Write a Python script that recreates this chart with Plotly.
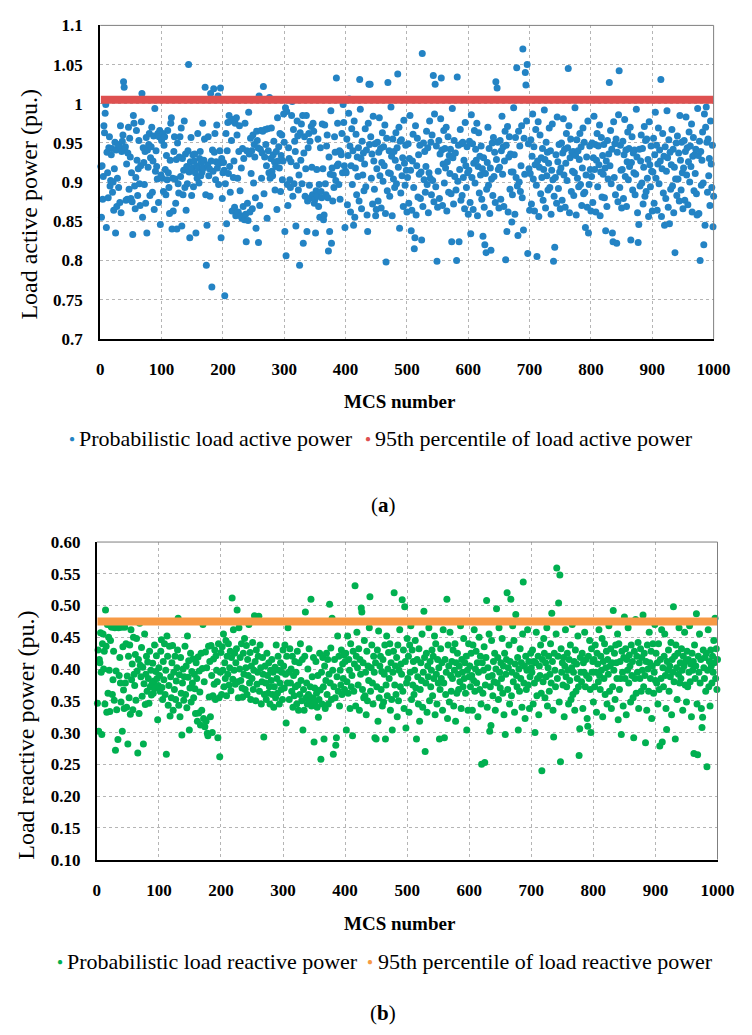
import plotly.graph_objects as go

# MCS sample numbers 1..1000
mcs_number = list(range(1, 1001))

# Probabilistic load active power, in milli-pu
active_power_mpu = [
    920, 855, 921, 878, 907, 972, 963, 988, 999, 842, 938, 912, 880, 944, 958, 895, 902, 935, 943, 887,
    900, 864, 917, 951, 835, 941, 869, 905, 948, 893, 946, 874, 972, 861, 939, 952, 960, 1028, 1021, 941,
    945, 877, 923, 878, 937, 970, 891, 956, 932, 879, 912, 875, 833, 985, 975, 895, 866, 906, 966, 928,
    883, 917, 953, 898, 870, 921, 977, 1013, 855, 944, 925, 897, 939, 873, 957, 835, 941, 919, 948, 962,
    883, 931, 945, 970, 887, 927, 959, 865, 994, 914, 940, 920, 904, 962, 874, 958, 966, 846, 909, 953,
    905, 962, 888, 947, 958, 916, 884, 934, 903, 966, 912, 893, 860, 928, 975, 982, 840, 905, 863, 939,
    958, 904, 873, 929, 840, 950, 898, 886, 932, 958, 907, 969, 844, 930, 884, 915, 978, 893, 936, 864,
    920, 898, 940, 1050, 913, 829, 926, 957, 883, 918, 935, 894, 927, 936, 912, 835, 921, 905, 962, 918,
    899, 930, 939, 908, 925, 913, 975, 918, 928, 955, 1021, 884, 794, 845, 922, 958, 908, 917, 882, 1013,
    927, 766, 941, 914, 1019, 938, 962, 903, 926, 973, 918, 1010, 897, 924, 940, 1020, 829, 930, 879, 912,
    925, 915, 755, 898, 962, 847, 940, 976, 911, 985, 920, 887, 978, 953, 863, 980, 906, 927, 868, 975,
    857, 982, 960, 905, 862, 939, 972, 889, 857, 918, 854, 943, 869, 930, 852, 975, 859, 824, 940, 873,
    851, 989, 936, 862, 956, 911, 940, 866, 960, 899, 948, 932, 880, 841, 965, 953, 944, 823, 1010, 870,
    942, 966, 905, 937, 965, 1022, 885, 932, 967, 948, 921, 854, 968, 940, 912, 1008, 905, 930, 969, 914,
    908, 935, 952, 926, 890, 920, 939, 865, 982, 927, 945, 918, 962, 888, 934, 960, 903, 927, 987, 951,
    837, 995, 806, 990, 897, 870, 944, 930, 903, 893, 926, 985, 1003, 882, 967, 898, 952, 939, 844, 921,
    978, 959, 890, 909, 794, 963, 928, 974, 898, 985, 822, 937, 958, 882, 917, 985, 837, 876, 944, 962,
    896, 952, 880, 971, 919, 884, 975, 965, 873, 878, 835, 889, 916, 882, 955, 869, 897, 855, 944, 888,
    880, 974, 917, 852, 858, 973, 898, 884, 946, 960, 880, 812, 932, 837, 910, 991, 822, 918, 876, 909,
    893, 958, 938, 902, 1033, 921, 975, 923, 897, 940, 878, 938, 935, 962, 912, 999, 976, 921, 842, 914,
    912, 955, 871, 934, 988, 1006, 946, 862, 921, 968, 897, 940, 845, 978, 855, 918, 961, 884, 932, 907,
    944, 876, 1031, 993, 930, 866, 952, 909, 937, 889, 923, 968, 894, 941, 858, 837, 975, 1025, 948, 1025,
    958, 905, 936, 872, 984, 927, 891, 949, 857, 865, 917, 951, 876, 938, 982, 908, 943, 867, 925, 963,
    901, 945, 921, 973, 860, 798, 956, 889, 1027, 912, 940, 882, 911, 996, 933, 857, 955, 904, 939, 893,
    928, 963, 898, 944, 1038, 919, 970, 841, 952, 886, 954, 908, 931, 869, 979, 924, 896, 947, 915, 862,
    906, 949, 873, 930, 985, 915, 838, 864, 927, 961, 893, 815, 829, 972, 858, 921, 956, 881, 935, 910,
    947, 879, 913, 826, 1064, 869, 950, 903, 939, 887, 920, 965, 897, 944, 861, 912, 978, 905, 951, 884,
    960, 902, 1036, 875, 987, 1025, 894, 946, 799, 868, 914, 953, 879, 936, 981, 1033, 941, 870, 923, 966,
    899, 943, 918, 970, 863, 926, 958, 887, 934, 911, 942, 885, 824, 994, 931, 872, 953, 907, 937, 890,
    800, 1034, 901, 947, 824, 916, 967, 877, 949, 883, 951, 906, 928, 866, 976, 921, 893, 945, 912, 859,
    915, 952, 874, 834, 986, 906, 949, 865, 924, 966, 899, 942, 928, 975, 857, 920, 963, 886, 933, 909,
    946, 878, 917, 831, 931, 868, 820, 911, 810, 891, 925, 970, 896, 943, 860, 918, 813, 904, 950, 883,
    957, 907, 938, 874, 1028, 929, 1020, 951, 916, 867, 919, 953, 878, 940, 984, 910, 945, 869, 927, 965,
    801, 947, 837, 971, 862, 932, 958, 891, 936, 913, 849, 884, 913, 995, 935, 859, 957, 906, 1046, 895,
    832, 965, 900, 946, 888, 921, 972, 880, 1070, 839, 956, 910, 1040, 1024, 978, 1050, 809, 949, 917, 864,
    911, 954, 872, 933, 987, 904, 945, 863, 922, 967, 896, 805, 927, 977, 856, 919, 960, 885, 931, 906,
    943, 877, 916, 992, 929, 867, 951, 908, 938, 890, 924, 969, 893, 940, 859, 915, 974, 903, 799, 882,
    817, 906, 935, 873, 983, 926, 892, 948, 913, 866, 918, 950, 877, 937, 981, 909, 942, 868, 924, 962,
    902, 944, 1045, 972, 861, 931, 955, 888, 938, 914, 939, 883, 912, 995, 934, 858, 954, 905, 940, 894,
    929, 962, 897, 945, 870, 918, 969, 885, 951, 887, 842, 909, 932, 868, 978, 835, 897, 946, 916, 863,
    907, 950, 874, 931, 984, 916, 948, 862, 928, 962, 894, 946, 922, 973, 857, 913, 957, 881, 934, 910,
    948, 880, 918, 838, 927, 869, 953, 904, 936, 1027, 921, 966, 898, 942, 835, 824, 977, 906, 949, 884,
    955, 822, 938, 875, 986, 1042, 893, 947, 915, 867, 916, 952, 879, 935, 980, 907, 941, 869, 926, 964,
    903, 943, 920, 970, 826, 925, 958, 890, 937, 912, 941, 884, 910, 993, 932, 861, 823, 846, 942, 895,
    927, 960, 899, 943, 872, 919, 971, 882, 953, 888, 955, 905, 929, 856, 977, 922, 894, 946, 914, 863,
    913, 956, 873, 935, 989, 905, 947, 864, 923, 969, 898, 941, 927, 1031, 856, 917, 962, 886, 933, 845,
    945, 879, 914, 991, 931, 868, 954, 847, 938, 891, 922, 967, 895, 942, 861, 919, 810, 904, 950, 883,
    959, 904, 937, 876, 985, 928, 890, 951, 912, 866, 918, 953, 877, 939, 983, 909, 944, 871, 926, 964,
    900, 946, 920, 974, 862, 933, 957, 889, 935, 911, 942, 885, 858, 994, 934, 860, 952, 800, 939, 896,
    928, 964, 899, 820, 987, 845, 970, 996, 951, 887, 955, 908, 930, 870, 978, 923, 893, 947, 843, 882,
]

# Probabilistic load reactive power, in milli-pu
reactive_power_mpu = [
    346, 430, 302, 415, 410, 457, 395, 297, 440, 455, 400, 428, 345, 493, 436, 332, 470, 362, 450, 398,
    333, 445, 467, 466, 360, 383, 428, 351, 465, 272, 397, 336, 467, 289, 465, 390, 418, 378, 348, 466,
    302, 435, 367, 338, 466, 378, 440, 340, 389, 282, 420, 355, 438, 329, 462, 383, 408, 336, 450, 392,
    374, 423, 351, 448, 397, 268, 415, 330, 472, 406, 388, 434, 357, 403, 282, 377, 455, 344, 392, 420,
    365, 411, 385, 346, 428, 372, 398, 359, 377, 409, 362, 381, 438, 370, 396, 421, 385, 320, 374, 402,
    390, 365, 428, 446, 371, 352, 412, 383, 440, 360, 398, 266, 452, 420, 343, 374, 436, 326, 388, 355,
    410, 437, 335, 395, 368, 420, 352, 381, 402, 430, 480, 343, 391, 325, 418, 362, 296, 378, 400, 351,
    388, 436, 360, 405, 339, 452, 387, 413, 304, 370, 425, 348, 396, 378, 416, 355, 392, 369, 330, 410,
    385, 318, 419, 331, 397, 364, 312, 425, 335, 401, 470, 322, 380, 309, 427, 318, 402, 299, 295, 436,
    356, 412, 325, 437, 390, 300, 358, 416, 376, 430, 352, 421, 398, 380, 292, 440, 355, 262, 395, 426,
    360, 435, 398, 455, 372, 410, 385, 445, 358, 420, 392, 440, 375, 402, 428, 366, 418, 512, 384, 462,
    398, 425, 376, 410, 432, 493, 380, 355, 465, 400, 418, 382, 440, 370, 356, 425, 392, 448, 368, 402,
    437, 360, 415, 390, 470, 378, 426, 352, 405, 385, 442, 368, 398, 484, 412, 350, 430, 376, 395, 420,
    483, 365, 438, 402, 345, 380, 418, 392, 293, 360, 405, 378, 352, 425, 390, 362, 410, 372, 345, 398,
    382, 415, 360, 395, 340, 372, 403, 355, 438, 385, 362, 420, 398, 345, 378, 410, 368, 395, 352, 430,
    405, 370, 438, 392, 315, 420, 378, 465, 395, 352, 432, 378, 400, 365, 420, 340, 390, 358, 412, 372,
    395, 345, 428, 375, 335, 410, 360, 440, 382, 350, 415, 304, 368, 335, 420, 490, 355, 378, 345, 400,
    360, 432, 350, 372, 510, 342, 388, 355, 418, 285, 370, 348, 412, 362, 340, 390, 324, 352, 425, 367,
    258, 395, 345, 418, 372, 290, 405, 338, 382, 425, 360, 415, 345, 392, 502, 378, 433, 352, 480, 398,
    266, 372, 415, 355, 280, 292, 388, 452, 365, 420, 342, 398, 375, 430, 360, 408, 385, 422, 368, 412,
    425, 304, 380, 452, 362, 415, 398, 338, 440, 372, 390, 295, 428, 365, 408, 531, 342, 420, 458, 402,
    375, 432, 335, 415, 392, 496, 490, 368, 410, 355, 445, 358, 395, 328, 428, 350, 405, 382, 465, 514,
    365, 402, 438, 378, 345, 420, 395, 292, 410, 290, 372, 430, 318, 460, 355, 405, 420, 368, 396, 342,
    415, 348, 392, 438, 290, 375, 452, 358, 400, 426, 385, 440, 335, 410, 352, 304, 395, 428, 520, 375,
    405, 360, 418, 325, 438, 350, 398, 462, 372, 408, 392, 509, 365, 430, 338, 498, 412, 307, 378, 448,
    385, 420, 332, 438, 395, 468, 352, 430, 375, 412, 360, 398, 445, 370, 290, 415, 388, 345, 432, 318,
    368, 410, 382, 455, 340, 395, 491, 418, 270, 378, 425, 332, 405, 388, 465, 350, 412, 372, 398, 430,
    358, 420, 385, 452, 328, 440, 392, 345, 415, 378, 402, 290, 368, 432, 385, 410, 335, 462, 378, 292,
    415, 360, 395, 510, 322, 438, 405, 348, 458, 390, 365, 412, 385, 430, 342, 398, 440, 318, 410, 362,
    425, 392, 368, 405, 380, 468, 338, 415, 395, 372, 448, 385, 410, 362, 420, 304, 398, 335, 440, 388,
    405, 372, 425, 390, 335, 438, 382, 462, 365, 400, 428, 378, 410, 325, 395, 450, 368, 420, 345, 250,
    410, 362, 398, 435, 253, 375, 418, 508, 340, 402, 388, 455, 302, 372, 311, 445, 390, 358, 412, 380,
    425, 335, 400, 495, 378, 418, 352, 465, 395, 370, 410, 385, 448, 362, 405, 328, 425, 297, 392, 415,
    520, 368, 402, 438, 345, 412, 510, 358, 395, 468, 380, 445, 332, 408, 486, 390, 372, 418, 304, 400,
    365, 432, 385, 410, 340, 455, 537, 378, 405, 322, 420, 368, 398, 462, 375, 412, 338, 388, 425, 402,
    395, 430, 345, 412, 378, 300, 410, 458, 358, 385, 420, 328, 405, 390, 438, 362, 240, 415, 380, 448,
    425, 355, 410, 388, 465, 342, 402, 420, 365, 392, 440, 378, 488, 412, 335, 293, 425, 398, 372, 455,
    559, 385, 420, 504, 348, 548, 254, 432, 395, 410, 375, 418, 325, 405, 462, 388, 372, 425, 398, 345,
    415, 382, 438, 352, 402, 470, 360, 395, 412, 335, 430, 365, 408, 385, 452, 372, 264, 306, 418, 395,
    380, 425, 338, 410, 395, 458, 372, 415, 390, 322, 310, 420, 385, 445, 368, 300, 432, 395, 412, 348,
    415, 372, 438, 395, 332, 425, 408, 380, 462, 390, 368, 420, 398, 448, 325, 412, 385, 440, 360, 402,
    428, 345, 415, 392, 468, 365, 405, 432, 338, 410, 372, 492, 398, 425, 352, 438, 410, 385, 455, 320,
    440, 368, 412, 385, 297, 428, 395, 342, 418, 482, 385, 432, 328, 415, 398, 465, 378, 422, 405, 348,
    438, 390, 412, 355, 292, 428, 385, 478, 362, 420, 395, 442, 338, 410, 385, 432, 365, 418, 398, 485,
    372, 425, 390, 284, 412, 335, 438, 400, 365, 458, 410, 385, 428, 322, 405, 440, 362, 395, 470, 382,
    425, 378, 410, 345, 440, 368, 279, 415, 385, 462, 285, 402, 372, 420, 455, 390, 338, 305, 412, 398,
    430, 365, 405, 388, 442, 328, 415, 395, 498, 380, 420, 290, 438, 402, 352, 425, 392, 465, 378, 410,
    385, 432, 398, 335, 420, 405, 458, 375, 412, 348, 428, 372, 415, 395, 468, 380, 408, 325, 425, 398,
    412, 267, 438, 385, 405, 487, 345, 265, 420, 395, 455, 378, 415, 338, 308, 324, 430, 402, 385, 418,
    365, 425, 246, 398, 462, 372, 412, 342, 430, 405, 378, 420, 395, 445, 410, 480, 385, 432, 368, 415,
]

# 95th percentile values (pu.)
p95_active = 1.005
p95_reactive = 0.475

# Axis ticks
x_ticks = list(range(0, 1001, 100))
y_ticks_a = [0.7, 0.75, 0.8, 0.85, 0.9, 0.95, 1.0, 1.05, 1.1]
y_ticktext_a = ["0.7", "0.75", "0.8", "0.85", "0.9", "0.95", "1", "1.05", "1.1"]
y_ticks_b = [0.10, 0.15, 0.20, 0.25, 0.30, 0.35, 0.40, 0.45, 0.50, 0.55, 0.60]

active_power = [v / 1000 for v in active_power_mpu]
reactive_power = [v / 1000 for v in reactive_power_mpu]

BLUE = "#2383C4"
RED = "#DE5050"
GREEN = "#00B050"
ORANGE = "#F79A45"
SERIF = "'Liberation Serif', 'Times New Roman', 'DejaVu Serif', serif"

W, H = 752, 1035

fig = go.Figure()
fig.add_trace(go.Scatter(x=mcs_number, y=active_power, mode="markers",
                         marker=dict(color=BLUE, size=7), cliponaxis=False,
                         name="Probabilistic load active power", showlegend=False,
                         xaxis="x", yaxis="y"))
fig.add_trace(go.Scatter(x=mcs_number, y=[p95_active] * len(mcs_number), mode="lines",
                         line=dict(color=RED, width=8), cliponaxis=False,
                         name="95th percentile of load active power", showlegend=False,
                         xaxis="x", yaxis="y"))
fig.add_trace(go.Scatter(x=mcs_number, y=reactive_power, mode="markers",
                         marker=dict(color=GREEN, size=7), cliponaxis=False,
                         name="Probabilistic load reactive power", showlegend=False,
                         xaxis="x2", yaxis="y2"))
fig.add_trace(go.Scatter(x=mcs_number, y=[p95_reactive] * len(mcs_number), mode="lines",
                         line=dict(color=ORANGE, width=8), cliponaxis=False,
                         name="95th percentile of load reactive power", showlegend=False,
                         xaxis="x2", yaxis="y2"))

tickfont = dict(family=SERIF, size=17, color="black", weight="bold")
grid = dict(showgrid=True, gridcolor="#B5B5B5", griddash="dot", gridwidth=1, zeroline=False,
            showline=True, linecolor="black", linewidth=2,
            ticks="outside", tickcolor="rgba(0,0,0,0)", tickfont=tickfont)

fig.update_layout(
    width=W, height=H,
    margin=dict(l=0, r=0, t=0, b=0),
    paper_bgcolor="white", plot_bgcolor="white",
    showlegend=False,
    xaxis=dict(domain=[99 / W, 730 / W], anchor="y", range=[0, 1000], tickvals=x_ticks,
               ticklen=14, **grid),
    yaxis=dict(domain=[1 - 336 / H, 1 - 16.7 / H], anchor="x", range=[0.7, 1.1],
               tickvals=y_ticks_a, ticktext=y_ticktext_a, ticklen=12, **grid),
    xaxis2=dict(domain=[95.5 / W, 734 / W], anchor="y2", range=[0, 1000], tickvals=x_ticks,
                ticklen=14, **grid),
    yaxis2=dict(domain=[1 - 866.5 / H, 1 - 543 / H], anchor="x2", range=[0.1, 0.6],
                tickvals=y_ticks_b, tickformat=".2f", ticklen=11, **grid),
)

# thin grey top/right frame
for xr, yr in (("x", "y"), ("x2", "y2")):
    fig.add_shape(type="line", xref=f"{xr} domain", yref=f"{yr} domain", x0=0, x1=1, y0=1, y1=1,
                  line=dict(color="#7F7F7F", width=1))
    fig.add_shape(type="line", xref=f"{xr} domain", yref=f"{yr} domain", x0=1, x1=1, y0=0, y1=1,
                  line=dict(color="#7F7F7F", width=1))

def ann(text, x, y, size, color="black", xanchor="center", angle=0, bold=False):
    fig.add_annotation(text=text, x=x / W, y=1 - y / H, xref="paper", yref="paper",
                       showarrow=False, xanchor=xanchor, yanchor="middle", textangle=angle,
                       borderpad=0, font=dict(family=SERIF, size=size, color=color,
                                              weight="bold" if bold else "normal"))

# axis titles
ann("Load active power (pu.)", 26, 199, 24, angle=-90)
ann("Load reactive power (pu.)", 23, 740, 24, angle=-90)
ann("MCS number", 407, 400, 19, bold=True)
ann("MCS number", 407, 932, 19, bold=True)

# legends
LEG = 22
ann("●", 70, 438, 10, color=BLUE)
ann("Probabilistic load active power", 76, 438, LEG, xanchor="left")
ann("●", 374, 438, 10, color=RED)
ann("95th percentile of load active power", 381, 438, LEG, xanchor="left")
ann("●", 58, 970, 10, color=GREEN)
ann("Probabilistic load reactive power", 64, 970, LEG, xanchor="left")
ann("●", 377, 970, 10, color=ORANGE)
ann("95th percentile of load reactive power", 384, 970, LEG, xanchor="left")

# panel labels
ann("(<b>a</b>)", 390, 505, 21)
ann("(<b>b</b>)", 390, 1023, 21)

fig.write_html("out.html", config={"displayModeBar": False},
               post_script="document.body.style.margin='0px';document.body.style.overflow='hidden';")
